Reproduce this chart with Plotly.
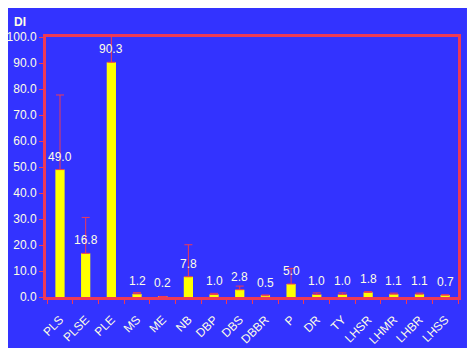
import plotly.graph_objects as go

categories = ["PLS", "PLSE", "PLE", "MS", "ME", "NB", "DBP", "DBS", "DBBR", "P",
              "DR", "TY", "LHSR", "LHMR", "LHBR", "LHSS"]
values = [49.0, 16.8, 90.3, 1.2, 0.2, 7.8, 1.0, 2.8, 0.5, 5.0, 1.0, 1.0, 1.8, 1.1, 1.1, 0.7]
errors = [28.7, 13.8, 11.5, 0.5, 0.0, 12.3, 0.4, 1.4, 0.3, 6.0, 0.6, 0.6, 0.3, 0.4, 0.4, 0.2]
y_ticks = [0, 10, 20, 30, 40, 50, 60, 70, 80, 90, 100]

BLUE = "#3333FF"
RED = "#EE3A55"
TXT = "#FFFFE6"
FONT = "Liberation Sans, Arial, sans-serif"

fig = go.Figure()
fig.add_trace(go.Bar(
    x=categories, y=values,
    marker=dict(color="#FFFF00", line=dict(width=0)),
    width=0.36,
    error_y=dict(type="data", symmetric=False, array=errors,
                 arrayminus=[0] * len(errors), color=RED, thickness=1, width=4),
))

for c, v in zip(categories, values):
    fig.add_annotation(x=c, y=v, text=f"{v:.1f}", showarrow=False,
                       yshift=13, font=dict(family=FONT, size=12, color=TXT))

fig.add_annotation(xref="paper", yref="paper", x=-0.063, y=1.058, text="<b>DI</b>",
                   showarrow=False, xanchor="center", yanchor="middle",
                   font=dict(family=FONT, size=12, color=TXT))

fig.add_shape(type="rect", xref="paper", yref="paper",
              x0=-0.0995, x1=1.0218, y0=-0.196, y1=1.123,
              fillcolor=BLUE, line=dict(width=0), layer="below")

fig.update_layout(
    width=468, height=349,
    margin=dict(l=38, r=18, t=29, b=60, autoexpand=False),
    paper_bgcolor="white", plot_bgcolor=BLUE,
    showlegend=False, bargap=0.6,
    font=dict(family=FONT, size=12, color=TXT),
)
fig.update_xaxes(
    type="category", tickangle=-45, showline=True, mirror=True,
    linecolor=RED, linewidth=3, ticks="outside", tickson="boundaries",
    tickcolor=RED, ticklen=4, tickwidth=1, showgrid=False, automargin=False,
    ticklabelstandoff=8,
    tickfont=dict(family=FONT, size=12, color=TXT),
)
fig.update_yaxes(
    range=[0, 100], tickvals=y_ticks, ticktext=[f"{t:.1f}" for t in y_ticks],
    showline=True, mirror=True, linecolor=RED, linewidth=3, automargin=False,
    ticks="outside", tickcolor=RED, ticklen=4, tickwidth=1, showgrid=False,
    zeroline=False, tickfont=dict(family=FONT, size=12, color=TXT),
)

fig.write_html("out.html")
